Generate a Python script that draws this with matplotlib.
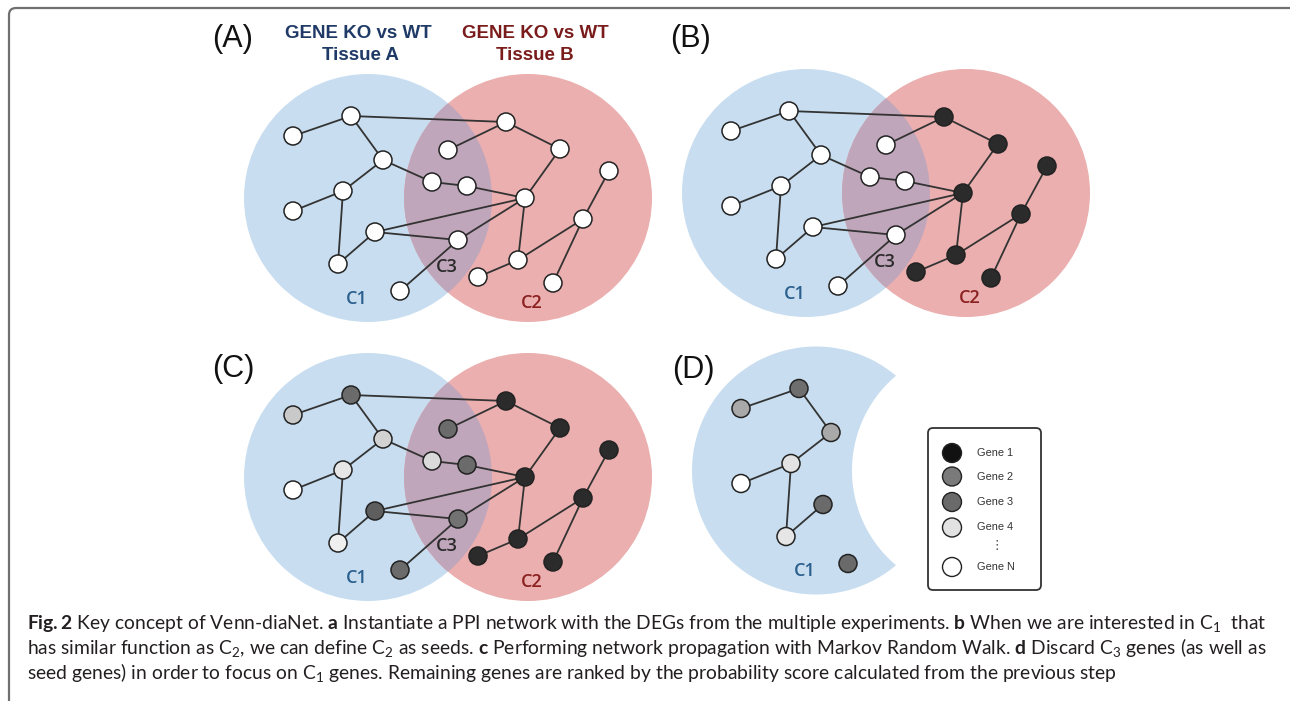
import numpy as np
import matplotlib.pyplot as plt
import matplotlib
from matplotlib.patches import Circle, FancyBboxPatch, Polygon

matplotlib.rcParams['mathtext.fontset'] = 'custom'
matplotlib.rcParams['mathtext.rm'] = 'Lato'
matplotlib.rcParams['mathtext.bf'] = 'Lato:bold'
matplotlib.rcParams['mathtext.it'] = 'Lato:italic'
matplotlib.rcParams['mathtext.default'] = 'regular'

# ---- network (positions of panel A, in pixels) ----
node_x = [351, 293, 383, 343, 293, 432, 467, 506, 448, 560,
          609, 525, 583, 375, 458, 338, 518, 478, 553, 400]
node_y = [116, 136, 160, 191, 211, 182, 186, 122, 150, 149,
          171, 198, 219, 232, 240, 264, 260, 277, 283, 291]
edges = [(1, 0), (0, 7), (0, 2), (2, 5), (5, 6), (6, 11), (2, 3), (3, 4),
         (3, 15), (15, 13), (13, 11), (13, 14), (14, 11), (14, 19), (7, 8),
         (7, 9), (9, 11), (11, 16), (16, 17), (16, 12), (12, 10), (12, 18)]

# venn circles of panel A
blue_c = (368, 198)
red_c = (528, 198)
venn_r = 124

# panel offsets
off_A = (0, 0)
off_B = (438, -5)
off_C = (0, 279)
off_D = (448, 272.5)

W, K, DG = '#ffffff', '#2b2b2b', '#6b6b6b'
colors_A = [W] * 20
colors_B = [W, W, W, W, W, W, W, K, W, K, K, K, K, W, W, W, K, K, K, W]
colors_C = [DG, '#c9c9c9', '#d2d2d2', '#e6e6e6', W, '#dadada', DG, K, DG, K,
            K, K, K, '#5e5e5e', '#727272', '#efefef', K, K, K, DG]
nodes_D = [0, 1, 2, 3, 4, 13, 15, 19]
colors_D = ['#6e6e6e', '#a9a9a9', '#a9a9a9', '#e3e3e3', W, '#6a6a6a', '#e6e6e6', '#6a6a6a']
edges_D = [(1, 0), (0, 2), (2, 3), (3, 4), (3, 15), (15, 13)]

legend_labels = ['Gene 1', 'Gene 2', 'Gene 3', 'Gene 4', 'Gene N']
legend_colors = ['#111111', '#7a7a7a', '#6a6a6a', '#e2e2e2', '#ffffff']
legend_y = [453, 476.5, 502, 527.5, 567]

caption_lines = [
    r"$\mathbf{Fig.2}$ Key concept of Venn-diaNet. $\mathbf{a}$ Instantiate a PPI network with the DEGs from the multiple experiments. $\mathbf{b}$ When we are interested in C$_1$  that",
    r"has similar function as C$_2$, we can define C$_2$ as seeds. $\mathbf{c}$ Performing network propagation with Markov Random Walk. $\mathbf{d}$ Discard C$_3$ genes (as well as",
    r"seed genes) in order to focus on C$_1$ genes. Remaining genes are ranked by the probability score calculated from the previous step",
]

BLUE = '#c8def0'
RED = '#ebafaf'
OVER = '#c0a6bb'
EDGE = '#333333'
NODE_R = 9


def draw_venn(ax, off):
    bc = (blue_c[0] + off[0], blue_c[1] + off[1])
    rc = (red_c[0] + off[0], red_c[1] + off[1])
    b = Circle(bc, venn_r, fc=BLUE, ec='none', zorder=1)
    ax.add_patch(b)
    ax.add_patch(Circle(rc, venn_r, fc=RED, ec='none', zorder=1))
    ov = Circle(rc, venn_r, fc=OVER, ec='none', zorder=2)
    ax.add_patch(ov)
    ov.set_clip_path(b)


def draw_net(ax, off, idx, cols, eds):
    xs = np.array(node_x) + off[0]
    ys = np.array(node_y) + off[1]
    for i, j in eds:
        ax.plot([xs[i], xs[j]], [ys[i], ys[j]], color=EDGE, lw=1.3, zorder=3,
                solid_capstyle='round')
    for k, c in zip(idx, cols):
        ax.add_patch(Circle((xs[k], ys[k]), NODE_R, fc=c, ec='#222222', lw=1.1, zorder=4))


def venn_labels(ax, off, c3=True, c2=True):
    kw = dict(fontsize=13, family='Open Sans', weight='semibold', ha='center', va='center', zorder=5)
    ax.text(357 + off[0], 299 + off[1], 'C1', color='#2b5f8e', **kw)
    if c3:
        ax.text(447 + off[0], 267 + off[1], 'C3', color='#2a2a2a', **kw)
    if c2:
        ax.text(532 + off[0], 303 + off[1], 'C2', color='#8b2020', **kw)


fig = plt.figure(figsize=(12.9, 7.01), dpi=100)
ax = fig.add_axes([0, 0, 1, 1])
ax.set_xlim(0, 1290)
ax.set_ylim(701, 0)
ax.axis('off')

# outer frame (only left and top visible)
ax.add_patch(FancyBboxPatch((9, 8), 1400, 800, boxstyle='round,pad=0,rounding_size=7',
                            fc='none', ec='#707070', lw=1.6, zorder=0))

all_idx = list(range(20))
# (A)
draw_venn(ax, off_A)
draw_net(ax, off_A, all_idx, colors_A, edges)
venn_labels(ax, off_A)
# (B)
draw_venn(ax, off_B)
draw_net(ax, off_B, all_idx, colors_B, edges)
venn_labels(ax, off_B)
# (C)
draw_venn(ax, off_C)
draw_net(ax, off_C, all_idx, colors_C, edges)
venn_labels(ax, off_C)
# (D) crescent = blue circle minus red circle
cx1, cx2 = blue_c[0] + off_D[0], red_c[0] + off_D[0]
cy = blue_c[1] + off_D[1]
ta = np.arccos((cx2 - cx1) / 2 / venn_r)
t1 = np.linspace(ta, 2 * np.pi - ta, 300)
t2 = np.linspace(np.pi + ta, np.pi - ta, 150)
pts = np.r_[np.c_[cx1 + venn_r * np.cos(t1), cy + venn_r * np.sin(t1)],
            np.c_[cx2 + venn_r * np.cos(t2), cy + venn_r * np.sin(t2)]]
ax.add_patch(Polygon(pts, closed=True, fc=BLUE, ec='none', zorder=1))
draw_net(ax, off_D, nodes_D, colors_D, edges_D)
venn_labels(ax, off_D, c3=False, c2=False)

# panel letters
for lab, (px, py) in zip(['(A)', '(B)', '(C)', '(D)'], [(233, 39), (691, 39), (233, 369), (693, 370)]):
    ax.text(px, py, lab, fontsize=22, family='Liberation Sans', ha='center', va='center', color='#111111')

# headers of panel A
hkw = dict(fontsize=13.5, family='Liberation Sans', weight='bold', ha='center', va='center')
ax.text(358, 33, 'GENE KO vs WT', color='#1f3a66', **hkw)
ax.text(360, 55, 'Tissue A', color='#1f3a66', **hkw)
ax.text(535, 33, 'GENE KO vs WT', color='#7a1c1c', **hkw)
ax.text(535, 55, 'Tissue B', color='#7a1c1c', **hkw)

# legend
ax.add_patch(FancyBboxPatch((928, 428), 113, 162, boxstyle='round,pad=0,rounding_size=5',
                            fc='white', ec='#333333', lw=1.3, zorder=3))
for lab, c, yy in zip(legend_labels, legend_colors, legend_y):
    ax.add_patch(Circle((952, yy), 9.5, fc=c, ec='#222222', lw=1.0, zorder=4))
    ax.text(977, yy, lab, fontsize=7.9, family='Liberation Sans', va='center', color='#333333', zorder=5)
ax.text(997, 546, '\u22ee', fontsize=9, family='DejaVu Sans', ha='center', va='center', color='#444444', zorder=5)

# caption, scaled so the first line fills the width
cap = []
for i, line in enumerate(caption_lines):
    cap.append(ax.text(27, 629.5 + i * 24.7, line, fontsize=12, family='Lato',
                       va='baseline', ha='left', color='#231f20'))
renderer = fig.canvas.get_renderer()
w = cap[0].get_window_extent(renderer).width
for t in cap:
    t.set_fontsize(12 * 1235 / w)

plt.savefig('out.png', dpi=100)
